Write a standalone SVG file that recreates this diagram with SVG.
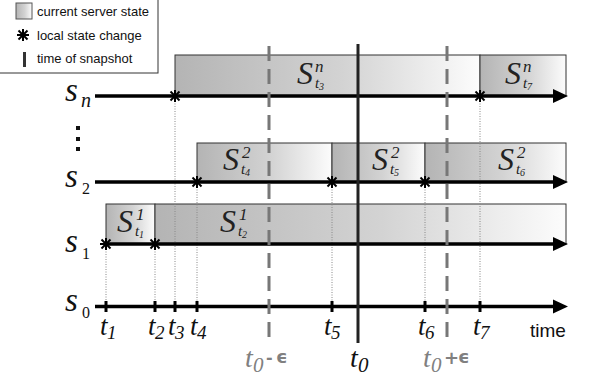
<svg xmlns="http://www.w3.org/2000/svg" width="590" height="379" viewBox="0 0 590 379">
<style>
.box{stroke:#333;stroke-width:1;fill:url(#g)}
.axis{stroke:#000;stroke-width:3.5;fill:none}
.dot{stroke:#888;stroke-width:1;stroke-dasharray:1 1.5;fill:none}
.dash{stroke:#777;stroke-width:3;stroke-dasharray:15 8;fill:none}
.tick{stroke:#000;stroke-width:3}
</style>
<defs>
<linearGradient id="g" x1="0" y1="0" x2="1" y2="0">
<stop offset="0" stop-color="#b4b4b4"/>
<stop offset="0.55" stop-color="#d3d3d3"/>
<stop offset="1" stop-color="#fcfcfc"/>
</linearGradient>
<g id="star" stroke="#000" stroke-width="2">
<line x1="0" y1="-6" x2="0" y2="6"/>
<line x1="-6" y1="0" x2="6" y2="0"/>
<line x1="-4.5" y1="-4.5" x2="4.5" y2="4.5"/>
<line x1="-4.5" y1="4.5" x2="4.5" y2="-4.5"/>
</g>
<polygon id="ah" points="0,-7 15,0 0,7" fill="#000"/>
</defs>

<g id="legend" fill="#111">
<rect x="-1" y="-1" width="159" height="74" fill="#fff" stroke="#333" stroke-width="1"/>
<rect x="16" y="3" width="16" height="16" fill="url(#g)" stroke="#555" stroke-width="1"/>
<text x="37" y="16" font-family="Liberation Sans" font-size="13">current server state</text>
<use href="#star" x="23" y="35"/>
<text x="37" y="40" font-family="Liberation Sans" font-size="13">local state change</text>
<rect x="23" y="52" width="3" height="15" fill="#333"/>
<text x="37" y="63" font-family="Liberation Sans" font-size="13">time of snapshot</text>
</g>

<g id="boxes">
<rect class="box" x="175" y="55" width="305" height="41"/>
<rect class="box" x="480" y="55" width="86" height="41"/>
<rect class="box" x="197" y="143" width="135" height="39"/>
<rect class="box" x="332" y="143" width="93" height="39"/>
<rect class="box" x="425" y="143" width="141" height="39"/>
<rect class="box" x="106" y="204" width="49" height="40"/>
<rect class="box" x="155" y="204" width="411" height="40"/>
</g>

<g id="box-labels" fill="#222">
<text x="297" y="84" font-family="Liberation Serif" font-style="italic" font-size="32">S</text><text x="315" y="72" font-family="Liberation Serif" font-style="italic" font-size="17">n</text><text x="315" y="88" font-family="Liberation Serif" font-style="italic" font-size="15">t</text><text x="319" y="90" font-family="Liberation Serif" font-style="italic" font-size="10">3</text>
<text x="505" y="84" font-family="Liberation Serif" font-style="italic" font-size="32">S</text><text x="523" y="72" font-family="Liberation Serif" font-style="italic" font-size="17">n</text><text x="523" y="88" font-family="Liberation Serif" font-style="italic" font-size="15">t</text><text x="527" y="90" font-family="Liberation Serif" font-style="italic" font-size="10">7</text>
<text x="223" y="170" font-family="Liberation Serif" font-style="italic" font-size="32">S</text><text x="242" y="158" font-family="Liberation Serif" font-style="italic" font-size="17">2</text><text x="241" y="174" font-family="Liberation Serif" font-style="italic" font-size="15">t</text><text x="245" y="176" font-family="Liberation Serif" font-style="italic" font-size="10">4</text>
<text x="372" y="170" font-family="Liberation Serif" font-style="italic" font-size="32">S</text><text x="391" y="158" font-family="Liberation Serif" font-style="italic" font-size="17">2</text><text x="390" y="174" font-family="Liberation Serif" font-style="italic" font-size="15">t</text><text x="394" y="176" font-family="Liberation Serif" font-style="italic" font-size="10">5</text>
<text x="498" y="170" font-family="Liberation Serif" font-style="italic" font-size="32">S</text><text x="517" y="158" font-family="Liberation Serif" font-style="italic" font-size="17">2</text><text x="516" y="174" font-family="Liberation Serif" font-style="italic" font-size="15">t</text><text x="520" y="176" font-family="Liberation Serif" font-style="italic" font-size="10">6</text>
<text x="117" y="232" font-family="Liberation Serif" font-style="italic" font-size="32">S</text><text x="136" y="220" font-family="Liberation Serif" font-style="italic" font-size="17">1</text><text x="135" y="236" font-family="Liberation Serif" font-style="italic" font-size="15">t</text><text x="139" y="238" font-family="Liberation Serif" font-style="italic" font-size="10">1</text>
<text x="220" y="232" font-family="Liberation Serif" font-style="italic" font-size="32">S</text><text x="239" y="220" font-family="Liberation Serif" font-style="italic" font-size="17">1</text><text x="238" y="236" font-family="Liberation Serif" font-style="italic" font-size="15">t</text><text x="242" y="238" font-family="Liberation Serif" font-style="italic" font-size="10">2</text>
</g>

<g id="connectors">
<line class="dot" x1="175" y1="96" x2="175" y2="306"/>
<line class="dot" x1="480" y1="96" x2="480" y2="306"/>
<line class="dot" x1="197" y1="182" x2="197" y2="306"/>
<line class="dot" x1="332" y1="182" x2="332" y2="306"/>
<line class="dot" x1="425" y1="182" x2="425" y2="306"/>
<line class="dot" x1="106" y1="244" x2="106" y2="306"/>
<line class="dot" x1="155" y1="244" x2="155" y2="306"/>
<line class="axis" x1="95" y1="96" x2="555" y2="96"/>
<use href="#ah" x="553" y="96"/>
<line class="axis" x1="95" y1="182" x2="555" y2="182"/>
<use href="#ah" x="553" y="182"/>
<line class="axis" x1="106" y1="244" x2="555" y2="244"/>
<use href="#ah" x="553" y="244"/>
<line class="axis" x1="95" y1="306.5" x2="555" y2="306.5"/>
<use href="#ah" x="553" y="306.5"/>
<line class="tick" x1="106" y1="301" x2="106" y2="312"/>
<line class="tick" x1="155" y1="301" x2="155" y2="312"/>
<line class="tick" x1="175" y1="301" x2="175" y2="312"/>
<line class="tick" x1="197" y1="301" x2="197" y2="312"/>
<line class="tick" x1="332" y1="301" x2="332" y2="312"/>
<line class="tick" x1="425" y1="301" x2="425" y2="312"/>
<line class="tick" x1="480" y1="301" x2="480" y2="312"/>
<line class="dash" x1="269" y1="46" x2="269" y2="343"/>
<line class="dash" x1="447" y1="46" x2="447" y2="343"/>
<line x1="358" y1="44" x2="358" y2="343" stroke="#222" stroke-width="3"/>
<use href="#star" x="175" y="96"/>
<use href="#star" x="480" y="96"/>
<use href="#star" x="197" y="182"/>
<use href="#star" x="332" y="182"/>
<use href="#star" x="425" y="182"/>
<use href="#star" x="106" y="244"/>
<use href="#star" x="155" y="244"/>
</g>

<g id="row-labels" fill="#111">
<text x="65" y="101" font-family="Liberation Serif" font-style="italic" font-size="33">s</text><text x="81" y="107" font-family="Liberation Serif" font-style="italic" font-size="20">n</text>
<rect x="76" y="126" width="4" height="4" fill="#111"/>
<rect x="76" y="137" width="4" height="4" fill="#111"/>
<rect x="76" y="147" width="4" height="4" fill="#111"/>
<text x="65" y="187" font-family="Liberation Serif" font-style="italic" font-size="33">s</text><text x="82" y="194" font-family="Liberation Serif" font-size="16">2</text>
<text x="65" y="252" font-family="Liberation Serif" font-style="italic" font-size="33">s</text><text x="82" y="259" font-family="Liberation Serif" font-size="16">1</text>
<text x="65" y="311" font-family="Liberation Serif" font-style="italic" font-size="33">s</text><text x="82" y="318" font-family="Liberation Serif" font-size="16">0</text>
</g>

<g id="time-labels" fill="#111">
<text x="100" y="335" font-family="Liberation Serif" font-style="italic" font-size="27">t</text><text x="107" y="339" font-family="Liberation Serif" font-style="italic" font-size="19">1</text>
<text x="148" y="335" font-family="Liberation Serif" font-style="italic" font-size="27">t</text><text x="155" y="339" font-family="Liberation Serif" font-style="italic" font-size="19">2</text>
<text x="168" y="335" font-family="Liberation Serif" font-style="italic" font-size="27">t</text><text x="175" y="339" font-family="Liberation Serif" font-style="italic" font-size="19">3</text>
<text x="190" y="335" font-family="Liberation Serif" font-style="italic" font-size="27">t</text><text x="197" y="339" font-family="Liberation Serif" font-style="italic" font-size="19">4</text>
<text x="324" y="335" font-family="Liberation Serif" font-style="italic" font-size="27">t</text><text x="331" y="339" font-family="Liberation Serif" font-style="italic" font-size="19">5</text>
<text x="418" y="335" font-family="Liberation Serif" font-style="italic" font-size="27">t</text><text x="425" y="339" font-family="Liberation Serif" font-style="italic" font-size="19">6</text>
<text x="473" y="335" font-family="Liberation Serif" font-style="italic" font-size="27">t</text><text x="480" y="339" font-family="Liberation Serif" font-style="italic" font-size="19">7</text>
<text x="350" y="367" font-family="Liberation Serif" font-style="italic" font-size="28">t</text><text x="358" y="372" font-family="Liberation Serif" font-style="italic" font-size="21">0</text>
<text x="245" y="367" fill="#808080" font-family="Liberation Serif" font-style="italic" font-size="28">t</text><text x="253" y="372" fill="#808080" font-family="Liberation Serif" font-style="italic" font-size="21">0</text>
<text x="423" y="367" fill="#808080" font-family="Liberation Serif" font-style="italic" font-size="28">t</text><text x="431" y="372" fill="#808080" font-family="Liberation Serif" font-style="italic" font-size="21">0</text>
</g>
<g id="misc-labels">
<text x="530" y="337" font-family="Liberation Sans" font-size="19" fill="#111">time</text>
<text x="266" y="363" font-family="DejaVu Sans" font-weight="bold" font-size="16" fill="#808080">-</text>
<text x="276" y="363" font-family="DejaVu Sans" font-weight="bold" font-size="18" fill="#808080">ϵ</text>
<text x="444" y="364" font-family="DejaVu Sans" font-weight="bold" font-size="18" fill="#808080">+</text>
<text x="458" y="363" font-family="DejaVu Sans" font-weight="bold" font-size="18" fill="#808080">ϵ</text>
</g>
</svg>
